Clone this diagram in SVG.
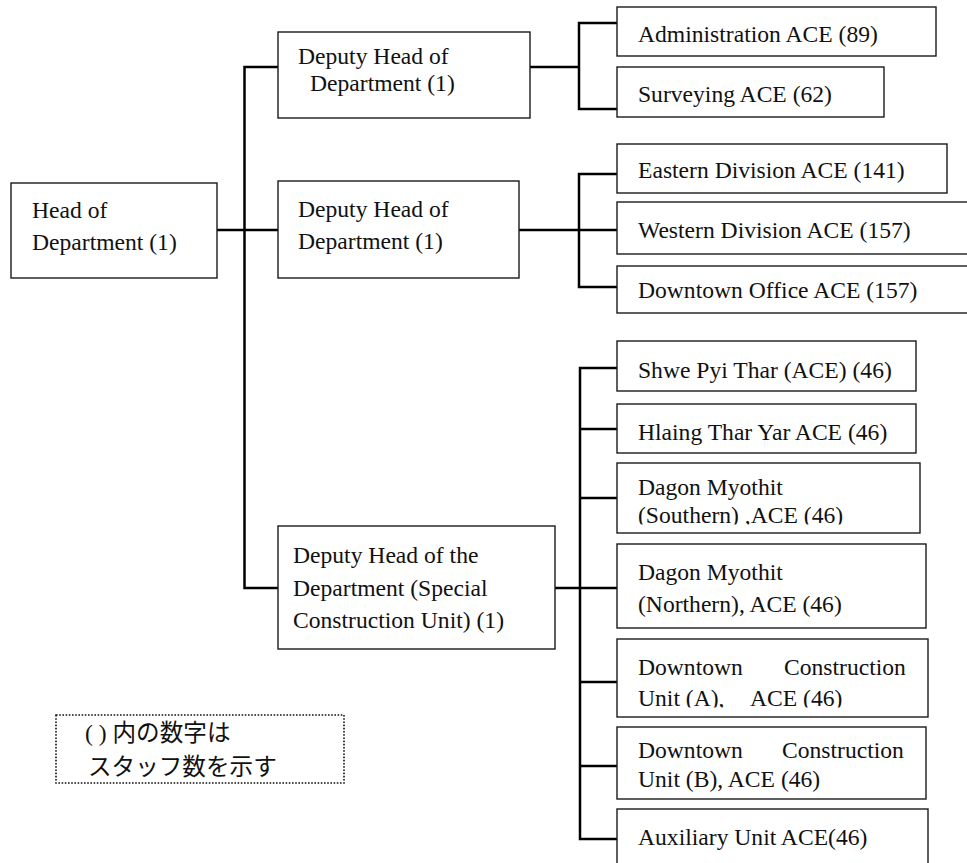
<svg xmlns="http://www.w3.org/2000/svg" width="967" height="863" viewBox="0 0 967 863">
  <style>
    .box { fill: #fff; stroke: #1a1a1a; stroke-width: 1.4; }
    .lbl { font-family: "Liberation Serif", "Times New Roman", serif; font-size: 23.6px; fill: #111; }
    .jp { font-family: "Liberation Serif", "Noto Sans CJK JP", serif; font-size: 23.6px; fill: #111; }
    .wire { fill: none; stroke: #000; stroke-width: 2.5; }
    .note { fill: #fff; stroke: #111; stroke-width: 1.6; stroke-dasharray: 1.6 1.6; }
  </style>
  <defs>
    <clipPath id="clipSouth"><rect x="617" y="463" width="304" height="61.5"/></clipPath>
    <clipPath id="clipUnitA"><rect x="617" y="639" width="311" height="68.5"/></clipPath>
  </defs>
  <rect width="967" height="863" fill="#fff"/>

  <!-- connectors -->
  <g id="connectors">
    <!-- head to deputies -->
    <path class="wire" d="M217,230 H278"/>
    <path class="wire" d="M278,67 H244.5 V588 H278"/>
    <!-- deputy 1 branches -->
    <path class="wire" d="M530,67 H579"/>
    <path class="wire" d="M617,23 H579 V109 H617"/>
    <!-- deputy 2 branches -->
    <path class="wire" d="M519,230 H617"/>
    <path class="wire" d="M617,174 H579 V287 H617"/>
    <!-- special construction unit branches -->
    <path class="wire" d="M555,588 H617"/>
    <path class="wire" d="M617,368 H580 V839 H617"/>
    <path class="wire" d="M580,429 H617"/>
    <path class="wire" d="M580,498 H617"/>
    <path class="wire" d="M580,682 H617"/>
    <path class="wire" d="M580,766 H617"/>
  </g>

  <g id="head">
    <rect class="box" x="11" y="183" width="206" height="95"/>
    <text class="lbl" x="32" y="218">Head of</text>
    <text class="lbl" x="32" y="250">Department (1)</text>
  </g>

  <g id="deputy1">
    <rect class="box" x="278" y="32" width="252" height="86"/>
    <text class="lbl" x="298" y="64">Deputy Head of</text>
    <text class="lbl" x="310" y="91">Department (1)</text>
  </g>

  <g id="deputy2">
    <rect class="box" x="278" y="181" width="241" height="97"/>
    <text class="lbl" x="298" y="217">Deputy Head of</text>
    <text class="lbl" x="298" y="249">Department (1)</text>
  </g>

  <g id="deputy3">
    <rect class="box" x="278" y="526" width="277" height="123"/>
    <text class="lbl" x="293" y="563">Deputy Head of the</text>
    <text class="lbl" x="293" y="596">Department (Special</text>
    <text class="lbl" x="293" y="628">Construction Unit) (1)</text>
  </g>

  <g id="admin">
    <rect class="box" x="617" y="7" width="319" height="49"/>
    <text class="lbl" x="638" y="42">Administration ACE (89)</text>
  </g>

  <g id="surveying">
    <rect class="box" x="617" y="67" width="267" height="50"/>
    <text class="lbl" x="638" y="102">Surveying ACE (62)</text>
  </g>

  <g id="eastern">
    <rect class="box" x="617" y="144" width="330" height="49"/>
    <text class="lbl" x="638" y="178">Eastern Division ACE (141)</text>
  </g>

  <g id="western">
    <rect class="box" x="617" y="202" width="360" height="52"/>
    <text class="lbl" x="638" y="238">Western Division ACE (157)</text>
  </g>

  <g id="downtown-office">
    <rect class="box" x="617" y="266" width="360" height="47"/>
    <text class="lbl" x="638" y="298">Downtown Office ACE (157)</text>
  </g>

  <g id="shwe-pyi-thar">
    <rect class="box" x="617" y="341" width="299" height="50"/>
    <text class="lbl" x="638" y="378">Shwe Pyi Thar (ACE) (46)</text>
  </g>

  <g id="hlaing-thar-yar">
    <rect class="box" x="617" y="404" width="299" height="49"/>
    <text class="lbl" x="638" y="440">Hlaing Thar Yar ACE (46)</text>
  </g>

  <g id="dagon-south">
    <rect class="box" x="617" y="463" width="303" height="70"/>
    <text class="lbl" x="638" y="495">Dagon Myothit</text>
    <text class="lbl" x="638" y="523" clip-path="url(#clipSouth)">(Southern) ,ACE (46)</text>
  </g>

  <g id="dagon-north">
    <rect class="box" x="617" y="544" width="309" height="84"/>
    <text class="lbl" x="638" y="580">Dagon Myothit</text>
    <text class="lbl" x="638" y="612">(Northern), ACE (46)</text>
  </g>

  <g id="downtown-a">
    <rect class="box" x="617" y="639" width="311" height="78"/>
    <text class="lbl" y="675"><tspan x="638">Downtown</tspan><tspan x="784">Construction</tspan></text>
    <text class="lbl" y="706" clip-path="url(#clipUnitA)"><tspan x="638">Unit (A),</tspan><tspan x="750">ACE (46)</tspan></text>
  </g>

  <g id="downtown-b">
    <rect class="box" x="617" y="727" width="309" height="72"/>
    <text class="lbl" y="758"><tspan x="638">Downtown</tspan><tspan x="782">Construction</tspan></text>
    <text class="lbl" x="638" y="787">Unit (B), ACE (46)</text>
  </g>

  <g id="auxiliary">
    <rect class="box" x="617" y="809" width="311" height="70"/>
    <text class="lbl" x="638" y="845">Auxiliary Unit ACE(46)</text>
  </g>

  <g id="legend">
    <rect class="note" x="56" y="715" width="288" height="68"/>
    <text class="jp" x="85" y="741">( ) 内の数字は</text>
    <text class="jp" x="88" y="775">スタッフ数を示す</text>
  </g>
</svg>
